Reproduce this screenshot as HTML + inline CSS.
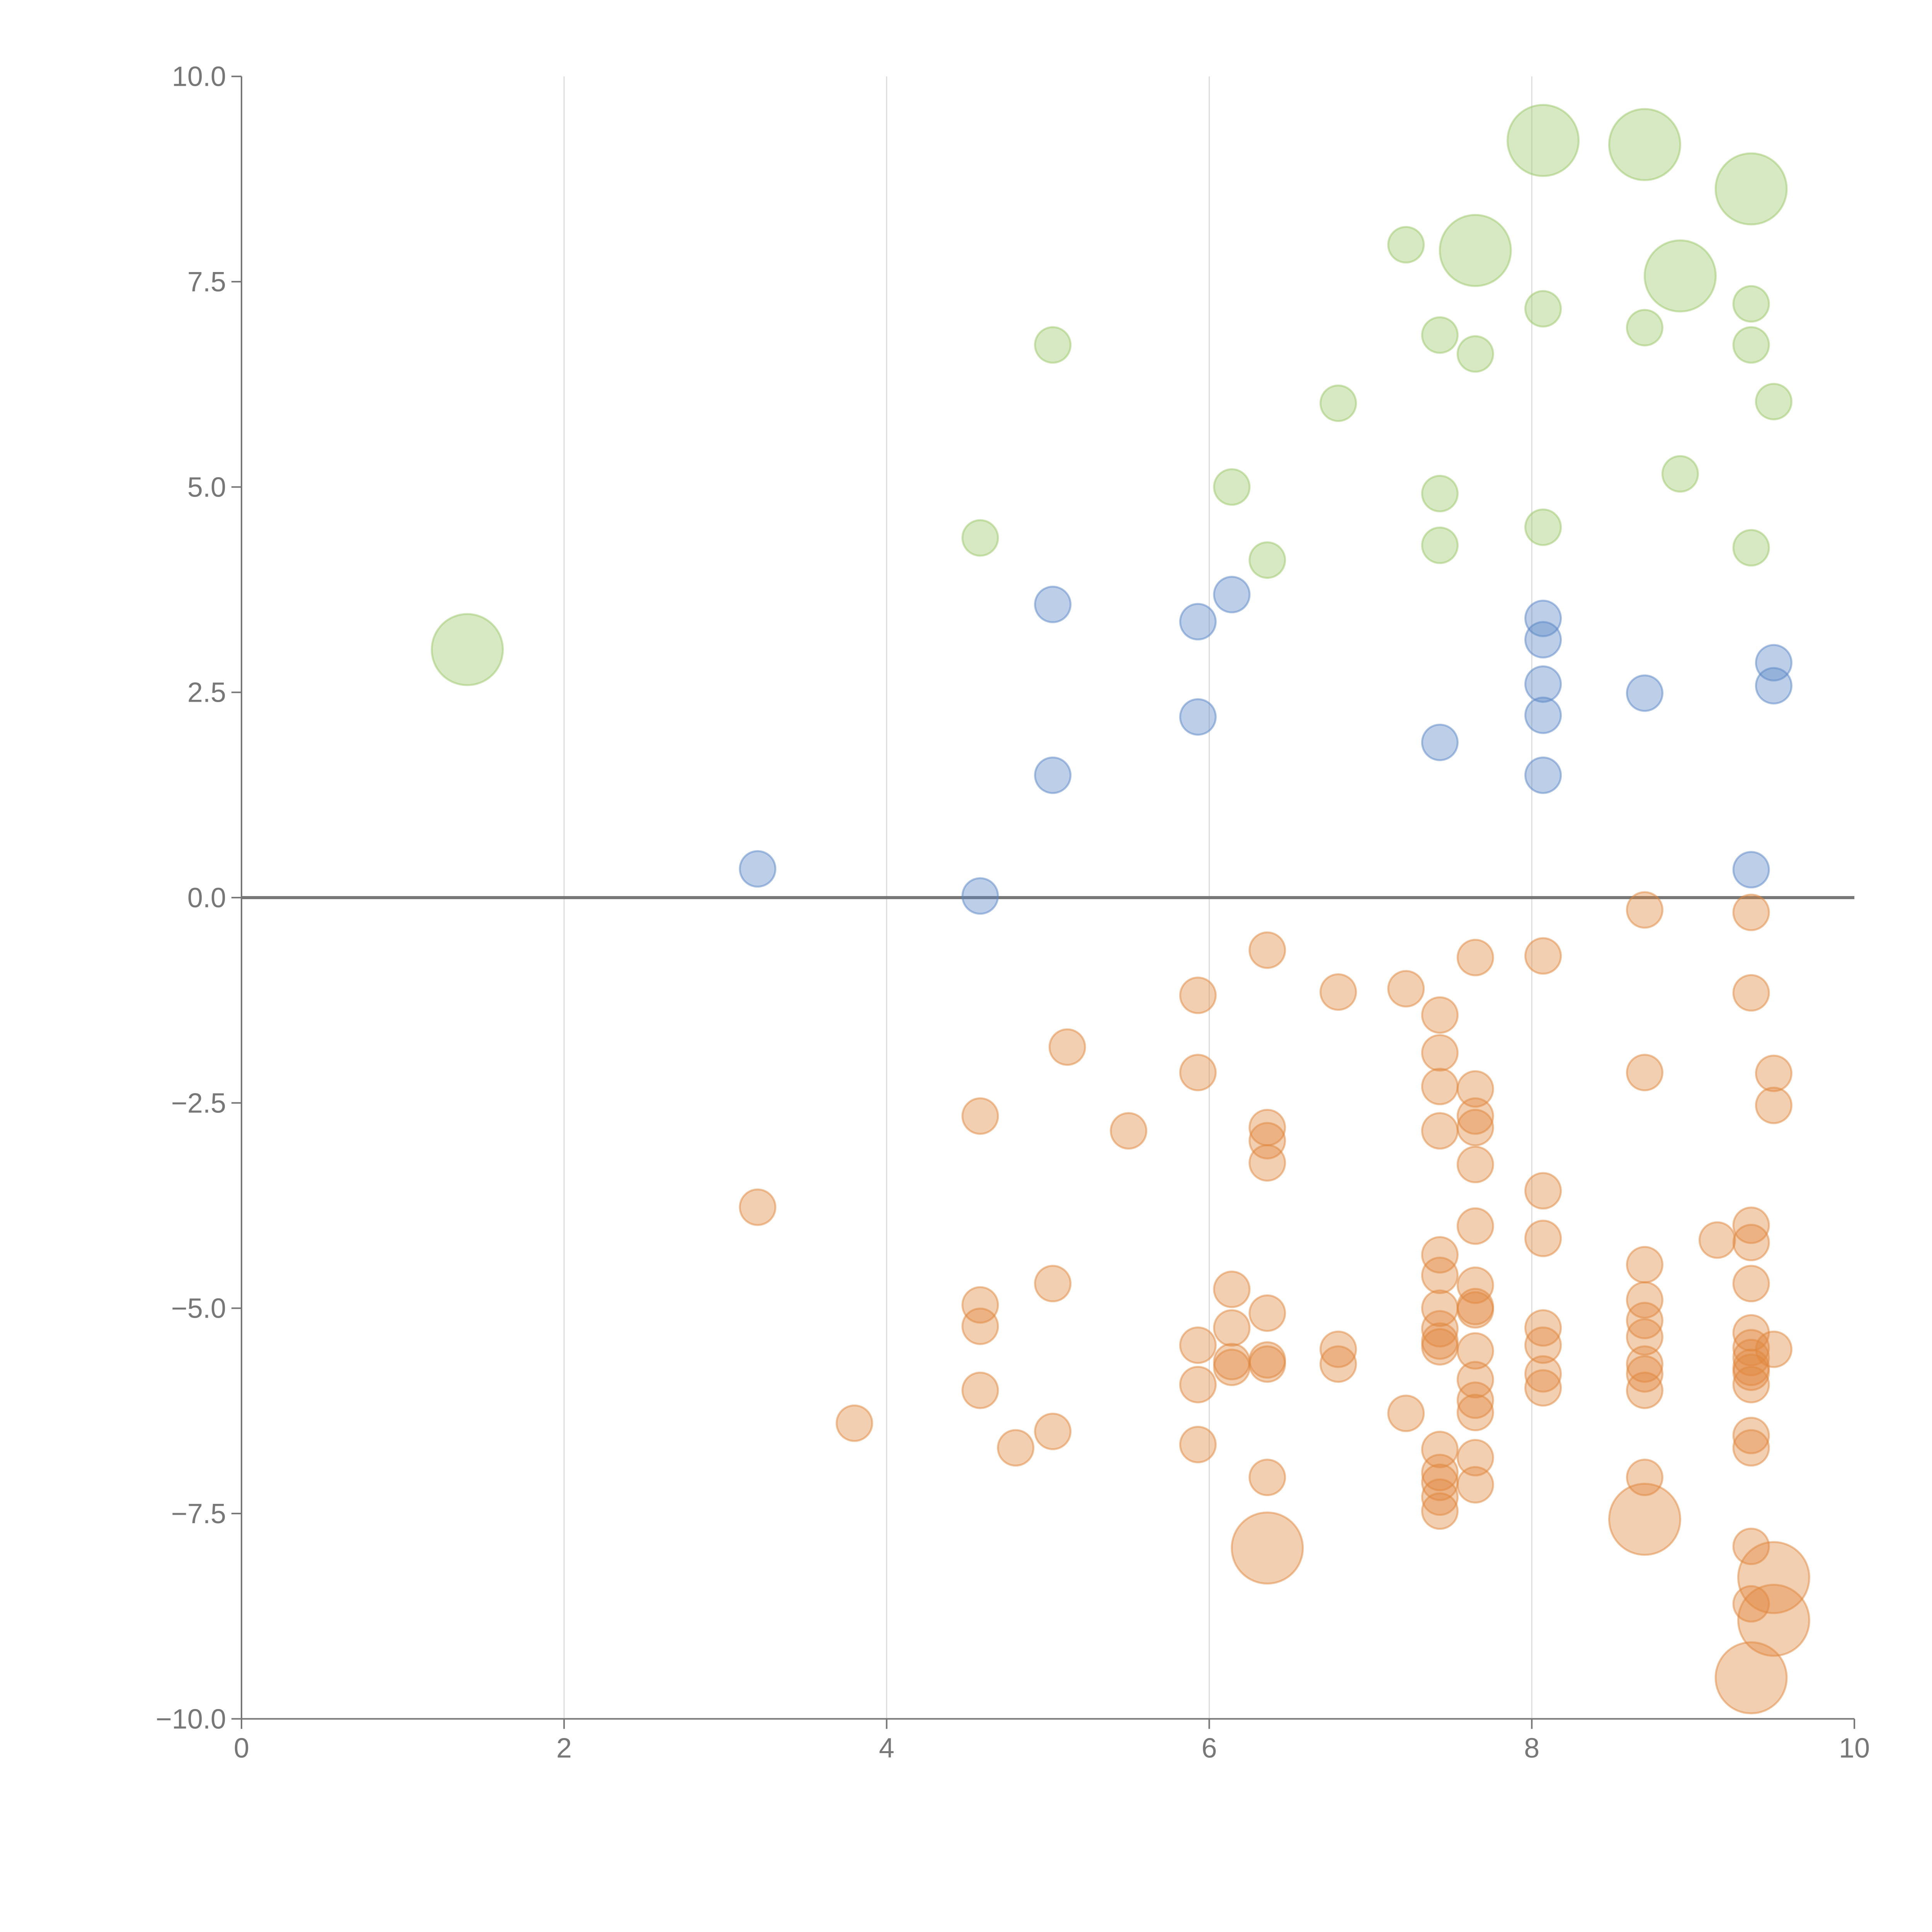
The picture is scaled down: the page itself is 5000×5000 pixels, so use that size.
<!DOCTYPE html>
<html><head><meta charset="utf-8"><style>html,body{margin:0;padding:0;background:#fff}svg{display:block}</style></head>
<body>
<svg id="chart" width="5000" height="5000" viewBox="0 0 5000 5000" xmlns="http://www.w3.org/2000/svg" font-family="Liberation Sans, sans-serif">
<g id="grid"></g>
<g id="axes"></g>
<g id="marks"></g>
</svg>
<script>
const xTicks=[0,2,4,6,8,10];
const yTicks=[10,7.5,5,2.5,0,-2.5,-5,-7.5,-10];
const greenX=[1.4,8.07,8.7,9.36,7.65,8.92,7.22,5.03,7.43,7.65,8.07,8.7,9.36,9.36,9.5,6.8,6.14,7.43,8.92,4.58,7.43,6.36,8.07,9.36];
const greenY=[3.02,9.22,9.17,8.63,7.88,7.57,7.95,6.73,6.85,6.62,7.17,6.94,7.23,6.73,6.04,6.02,5.0,4.92,5.16,4.38,4.29,4.11,4.51,4.26];
const greenS=[1,1,1,1,1,1,0,0,0,0,0,0,0,0,0,0,0,0,0,0,0,0,0,0];
const blueX=[5.03,5.93,6.14,8.07,8.07,9.5,9.5,8.07,8.7,5.93,8.07,7.43,5.03,8.07,3.2,4.58,9.36];
const blueY=[3.57,3.36,3.69,3.4,3.14,2.86,2.58,2.6,2.49,2.2,2.22,1.89,1.49,1.49,0.35,0.02,0.34];
const orangeX=[8.7,9.36,6.36,7.65,8.07,5.93,6.8,7.22,9.36,7.43,5.12,7.43,5.93,8.7,9.5,7.43,7.65,4.58,9.5,7.65,6.36,7.43,5.5,6.36,7.65,6.36,7.65,8.07,3.2,9.36,7.65,8.07,9.15,9.36,7.43,8.7,7.43,9.36,5.03,7.65,6.14,4.58,8.7,7.43,7.65,7.65,6.36,8.7,4.58,6.14,8.07,7.43,9.36,8.7,7.43,7.43,5.93,6.8,8.07,9.36,9.5,7.65,9.36,6.36,6.14,6.14,6.36,6.8,8.7,9.36,9.36,8.07,8.7,7.65,5.93,9.36,8.07,4.58,8.7,7.65,7.65,7.22,3.8,5.03,9.36,5.93,4.8,9.36,7.43,7.65,7.43,6.36,8.7,7.43,7.65,7.43,7.43,9.36,9.36,6.36,8.7,9.5,9.5,9.36];
const orangeY=[-0.15,-0.18,-0.64,-0.73,-0.71,-1.19,-1.15,-1.11,-1.16,-1.43,-1.82,-1.89,-2.13,-2.13,-2.14,-2.3,-2.33,-2.66,-2.53,-2.66,-2.8,-2.84,-2.84,-2.96,-2.8,-3.23,-3.25,-3.57,-3.77,-3.99,-4.0,-4.15,-4.17,-4.2,-4.35,-4.47,-4.6,-4.7,-4.7,-4.72,-4.77,-4.96,-4.9,-5.0,-4.98,-5.02,-5.06,-5.15,-5.22,-5.24,-5.24,-5.25,-5.3,-5.35,-5.4,-5.47,-5.45,-5.5,-5.45,-5.48,-5.5,-5.52,-5.6,-5.63,-5.65,-5.72,-5.68,-5.68,-5.68,-5.72,-5.78,-5.8,-5.8,-5.87,-5.93,-5.93,-5.97,-6.0,-6.0,-6.12,-6.27,-6.28,-6.4,-6.5,-6.55,-6.66,-6.7,-6.7,-6.72,-6.82,-7.0,-7.06,-7.06,-7.12,-7.15,-7.3,-7.47,-7.9,-8.6,-7.92,-7.57,-8.28,-8.8,-9.5];
const orangeS=orangeX.map((_,i)=>i>=orangeX.length-5?1:0);

const S=5000/1568;
const X0=196*S,X1=1505*S,Y0=62*S,Y1=1395*S;
const xs=v=>X0+(v-0)/10*(X1-X0);
const ys=v=>Y0+(10-v)/20*(Y1-Y0);
const NS='http://www.w3.org/2000/svg';
function mk(tag,attrs,parent){const e=document.createElementNS(NS,tag);for(const k in attrs)e.setAttribute(k,attrs[k]);parent.appendChild(e);return e;}
const grid=document.getElementById('grid'),axes=document.getElementById('axes'),marks=document.getElementById('marks');
xTicks.forEach(t=>{
  if(t>0&&t<10){const g=mk('line',{x1:xs(t),x2:xs(t),y1:Y0,y2:Y1,stroke:'#dcdcdc','stroke-width':3},grid);
  
  }
  const tk=mk('line',{x1:xs(t),x2:xs(t),y1:Y1,y2:Y1+26,stroke:'#777','stroke-width':4},axes);
  
  
  const tx=mk('text',{x:xs(t),y:Y1+100,'text-anchor':'middle','font-size':72,fill:'#777'},axes);
  tx.textContent=String(t);
  
  
});
yTicks.forEach(t=>{
  const tk=mk('line',{x1:X0-26,x2:X0,y1:ys(t),y2:ys(t),stroke:'#777','stroke-width':4},axes);
  
  
  const tx=mk('text',{x:X0-40,y:ys(t)+25,'text-anchor':'end','font-size':72,fill:'#777'},axes);
  tx.textContent=t.toFixed(1).replace('-','\u2212');
  
  
});
const ya=mk('line',{x1:X0,x2:X0,y1:Y0,y2:Y1,stroke:'#777','stroke-width':4},axes);


const xa=mk('line',{x1:X0,x2:X1,y1:Y1,y2:Y1,stroke:'#777','stroke-width':4},axes);


const zl=mk('line',{x1:X0,x2:X1,y1:ys(0),y2:ys(0),stroke:'#777','stroke-width':8},axes);


function series(X,Y,Sz,col,name){
  X.forEach((x,i)=>{
    const c=mk('circle',{cx:xs(x),cy:ys(Y[i]),r:(Sz&&Sz[i])?92:46,fill:col,'fill-opacity':0.4,stroke:col,'stroke-opacity':0.5,'stroke-width':5},marks);
    
    
  });
}
series(greenX,greenY,greenS,'#9cc76a','green-bubble');
series(blueX,blueY,null,'#5a86c6','blue-bubble');
series(orangeX,orangeY,orangeS,'#e0883e','orange-bubble');
</script>
</body></html>
